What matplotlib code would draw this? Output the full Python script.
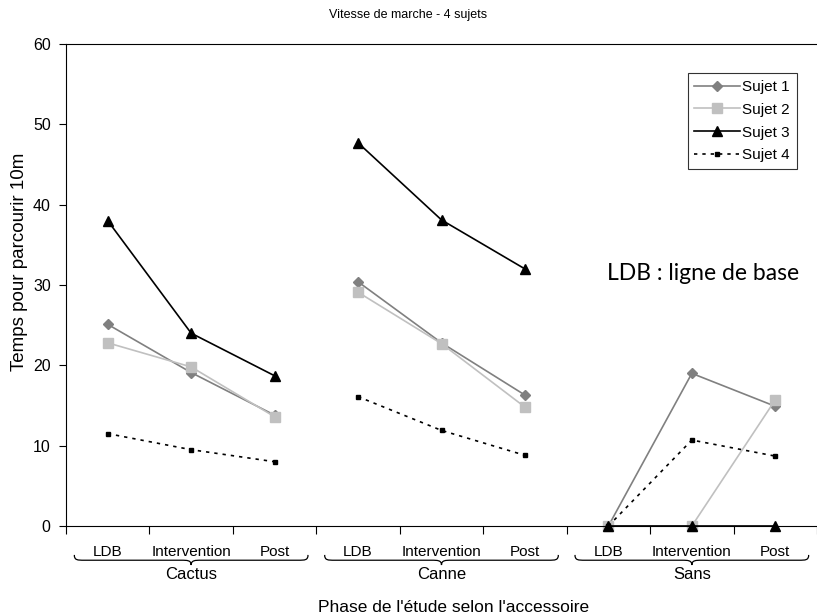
import matplotlib
matplotlib.use('Agg')
import matplotlib.pyplot as plt
import matplotlib.transforms as mtransforms
from matplotlib.path import Path
from matplotlib.patches import PathPatch
import numpy as np

plt.rcParams['font.family'] = ['Liberation Sans', 'DejaVu Sans']

# Données
groupes = ['Cactus', 'Canne', 'Sans']
phases = ['LDB', 'Intervention', 'Post']
sujet1 = [[25.1, 19.1, 13.8], [30.4, 22.8, 16.3], [0, 19.0, 14.9]]
sujet2 = [[22.8, 19.8, 13.6], [29.1, 22.7, 14.8], [0, 0, 15.7]]
sujet3 = [[38.0, 24.0, 18.7], [47.7, 38.1, 32.0], [0, 0, 0]]
sujet4 = [[11.5, 9.5, 8.0], [16.1, 11.9, 8.8], [0, 10.7, 8.7]]

series = [
    ('Sujet 1', sujet1, dict(color='#808080', marker='D', ms=5, lw=1.2, ls='-')),
    ('Sujet 2', sujet2, dict(color='#c0c0c0', marker='s', ms=6.5, lw=1.2, ls='-')),
    ('Sujet 3', sujet3, dict(color='black', marker='^', ms=7, lw=1.2, ls='-')),
    ('Sujet 4', sujet4, dict(color='black', marker='s', ms=3.5, lw=1.2, ls=(0, (2, 3)))),
]

fig = plt.figure(figsize=(8.17, 6.15), dpi=100)
ax = fig.add_axes([66 / 817, 89 / 615, 751 / 817, 482 / 615])

for nom, valeurs, style in series:
    for g, vals in enumerate(valeurs):
        x = np.arange(3) + 3 * g
        ax.plot(x, vals, label=nom if g == 0 else None, clip_on=False, **style)

ax.set_xlim(-0.5, 8.5)
ax.set_ylim(0, 60)
ax.set_yticks(range(0, 61, 10))
ax.tick_params(axis='y', direction='out', length=5, labelsize=11.5, pad=6)

# graduations aux limites, étiquettes au centre
ax.set_xticks(np.arange(-0.5, 9, 1))
ax.set_xticklabels([])
ax.tick_params(axis='x', which='major', direction='out', length=6)
ax.set_xticks(np.arange(9), minor=True)
ax.set_xticklabels(phases * 3, minor=True, fontsize=11)
ax.tick_params(axis='x', which='minor', length=0, pad=14)

ax.spines['right'].set_visible(False)

# accolades sous chaque groupe
trans = mtransforms.blended_transform_factory(ax.transData, ax.transAxes)
y_top, y_mid, y_bot = -0.060, -0.071, -0.081
for g, nom in enumerate(groupes):
    x0 = 3 * g - 0.40
    x1 = 3 * g + 2.40
    xc = 3 * g + 1
    d = 0.12
    verts = [
        (x0, y_top), (x0, y_mid), (x0 + d * 0.3, y_mid), (x0 + d, y_mid),
        (xc - d, y_mid),
        (xc - d * 0.4, y_mid), (xc, y_mid), (xc, y_bot),
        (xc, y_mid), (xc + d * 0.4, y_mid), (xc + d, y_mid),
        (x1 - d, y_mid),
        (x1 - d * 0.3, y_mid), (x1, y_mid), (x1, y_top),
    ]
    codes = [Path.MOVETO, Path.CURVE4, Path.CURVE4, Path.CURVE4,
             Path.LINETO,
             Path.CURVE4, Path.CURVE4, Path.CURVE4,
             Path.CURVE4, Path.CURVE4, Path.CURVE4,
             Path.LINETO,
             Path.CURVE4, Path.CURVE4, Path.CURVE4]
    ax.add_patch(PathPatch(Path(verts, codes), transform=trans, fill=False,
                           lw=0.9, color='black', clip_on=False))
    ax.text(xc, -0.101, nom, transform=trans, ha='center', va='center', fontsize=12)

fig.text(454 / 817, 1 - 607 / 615, "Phase de l'étude selon l'accessoire",
         ha='center', va='center', fontsize=12.5)
fig.text(20 / 817, 1 - 262 / 615, 'Temps pour parcourir 10m', rotation=90,
         ha='center', va='center', fontsize=13.5)
fig.text(0.5, 0.9756, 'Vitesse de marche - 4 sujets', ha='center', va='center', fontsize=9)

ax.text(7.14, 31.4, 'LDB : ligne de base', ha='center', va='center', fontsize=16.5,
        family=['Lato', 'DejaVu Sans'])

leg = ax.legend(loc='upper right', frameon=True, fancybox=False, fontsize=11,
                handlelength=3.0, handletextpad=0.15, borderpad=0.45, labelspacing=0.58,
                borderaxespad=0)
leg.set_bbox_to_anchor((731 / 751, 1 - 29 / 482), transform=ax.transAxes)
leg.get_frame().set_edgecolor('black')
leg.get_frame().set_linewidth(0.8)

fig.savefig('out.png', dpi=100)
